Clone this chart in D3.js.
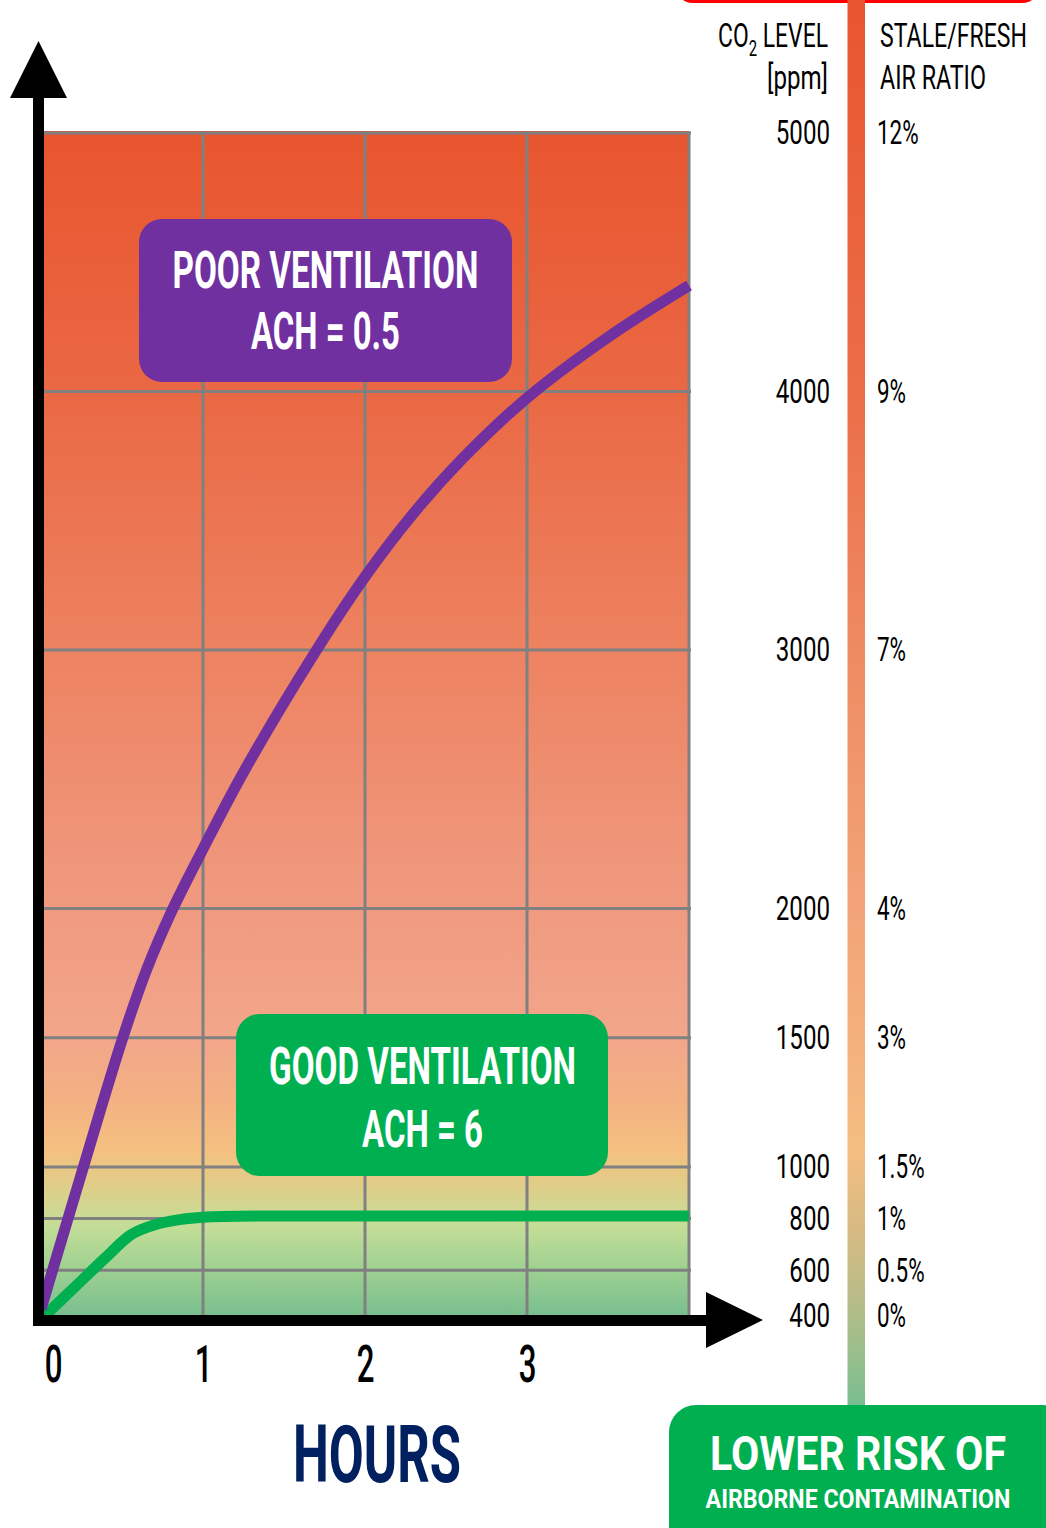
<!DOCTYPE html>
<html><head><meta charset="utf-8">
<script src="https://cdn.jsdelivr.net/npm/d3@7"></script>
<style>html,body{margin:0;padding:0;background:#fff;} svg{display:block;font-family:Roboto,"Noto Sans",sans-serif;}</style>
</head><body><svg id="chart" width="1046" height="1528"></svg>
<script>
// ---------- data ----------
const hoursPoor = [0, 0.25, 0.5, 0.65, 0.8, 1.0, 1.25, 1.68, 2.0, 2.3, 2.6, 3.0, 3.5, 4.0];
const ppmPoor   = [450, 975, 1490, 1760, 1980, 2230, 2527, 2979, 3283, 3529, 3739, 3975, 4210, 4410];
const hoursGood = [0, 0.2, 0.4, 0.55, 0.65, 0.8, 1.0, 2, 3, 4];
const ppmGood   = [410, 530, 650, 735, 765, 790, 805, 810, 810, 810];
const hourTicks = [0, 1, 2, 3];
const hourGrid  = [1, 2, 3, 4];
const ppmTicks  = [400, 600, 800, 1000, 1500, 2000, 3000, 4000, 5000];
const ratioLabels = ["0%", "0.5%", "1%", "1.5%", "3%", "4%", "7%", "9%", "12%"];
const ppmGrid   = [600, 800, 1000, 1500, 2000, 3000, 4000, 5000];
const seriesTitles = ["POOR VENTILATION", "GOOD VENTILATION"];
const achLabels = ["ACH = 0.5", "ACH = 6"];
const xTitle = "HOURS";
const riskLines = ["LOWER RISK OF", "AIRBORNE CONTAMINATION"];

// ---------- setup ----------
const svg = d3.select("#chart");
const x = d3.scaleLinear().domain([0, 4]).range([41, 689]);
const y = d3.scaleLinear().domain([400, 5000]).range([1322, 133]);

const defs = svg.append("defs");
function vGrad(id, stops) {
  const g = defs.append("linearGradient").attr("id", id)
    .attr("x1", 0).attr("y1", 0).attr("x2", 0).attr("y2", 1);
  stops.forEach(s => g.append("stop").attr("offset", s[0]).attr("stop-color", s[1]));
}
vGrad("bgGrad", [
  [0, "#E8552E"], [0.2175, "#EA6844"], [0.4316, "#ED8260"], [0.6516, "#F09A80"],
  [0.761, "#F2A68A"], [0.814, "#F3B182"], [0.856, "#F5C080"], [0.885, "#E0CD88"],
  [0.919, "#C4DE98"], [0.952, "#A2D292"], [1, "#74BC8E"]
]);
vGrad("barGrad", [
  [0, "#E8552E"], [0.278, "#EB6E48"], [0.459, "#EE8A62"], [0.646, "#F2A478"],
  [0.738, "#F4B07C"], [0.818, "#F4BE82"], [0.875, "#D6BA82"], [0.918, "#BCBC88"],
  [0.954, "#A0BE8A"], [1, "#78BE90"]
]);

function addText(parent, str, px, py, size, weight, fill, anchor, width) {
  const g = parent.append("g").attr("transform", `translate(${px},${py})`);
  const t = g.append("text").attr("text-anchor", anchor)
    .style("font-size", size + "px").style("font-weight", weight)
    .attr("fill", fill).text(str);
  const w = t.node().getComputedTextLength();
  t.attr("transform", `scale(${width / w},1)`);
  return t;
}

// ---------- plot background ----------
svg.append("rect")
  .attr("x", 44).attr("y", y(5000) - 2)
  .attr("width", x(4) - 44).attr("height", y(400) - y(5000) + 2)
  .attr("fill", "url(#bgGrad)");

// grid
svg.append("g").selectAll("line").data(ppmGrid).join("line")
  .attr("x1", 44).attr("x2", x(4) + 2)
  .attr("y1", d => y(d)).attr("y2", d => y(d))
  .attr("stroke", "#808080").attr("stroke-width", 3);
svg.append("g").selectAll("line").data(hourGrid).join("line")
  .attr("x1", d => x(d)).attr("x2", d => x(d))
  .attr("y1", y(5000) - 1.5).attr("y2", y(400))
  .attr("stroke", "#808080").attr("stroke-width", 3);

// ---------- lines ----------
const line = d3.line().x(d => x(d[0])).y(d => y(d[1])).curve(d3.curveCatmullRom.alpha(0.5));
svg.append("path").datum(hoursGood.map((h, i) => [h, ppmGood[i]]))
  .attr("d", line).attr("fill", "none").attr("stroke", "#00B050").attr("stroke-width", 11);
svg.append("path").datum(hoursPoor.map((h, i) => [h, ppmPoor[i]]))
  .attr("d", line).attr("fill", "none").attr("stroke", "#7030A0").attr("stroke-width", 11);

// ---------- label boxes ----------
svg.append("rect").attr("x", 139).attr("y", 219).attr("width", 373).attr("height", 163)
  .attr("rx", 23).attr("fill", "#7030A0");
addText(svg, seriesTitles[0], 325.5, 288, 51, 700, "#fff", "middle", 306);
addText(svg, achLabels[0], 325.5, 349, 51, 700, "#fff", "middle", 149);

svg.append("rect").attr("x", 236).attr("y", 1014).attr("width", 372).attr("height", 162)
  .attr("rx", 24).attr("fill", "#00B050");
addText(svg, seriesTitles[1], 422.5, 1084, 51, 700, "#fff", "middle", 307);
addText(svg, achLabels[1], 422.5, 1147, 51, 700, "#fff", "middle", 121);

// ---------- axes ----------
svg.append("line").attr("x1", 38.5).attr("x2", 38.5).attr("y1", 95).attr("y2", 1326)
  .attr("stroke", "#000").attr("stroke-width", 11);
svg.append("line").attr("x1", 33).attr("x2", 710).attr("y1", 1320.5).attr("y2", 1320.5)
  .attr("stroke", "#000").attr("stroke-width", 11);
svg.append("path").attr("d", "M10,98 L67,98 L38.5,41 Z").attr("fill", "#000");
svg.append("path").attr("d", "M706,1292 L706,1348 L763,1320 Z").attr("fill", "#000");

const xAxis = svg.append("g").attr("transform", "translate(0,1320)")
  .call(d3.axisBottom(x).tickValues(hourTicks).tickSize(0).tickPadding(25).tickFormat(d3.format("d")));
xAxis.select(".domain").remove();
xAxis.selectAll("text").style("font-size", "52px").style("font-family", "Roboto")
  .style("font-weight", 500).attr("fill", "#000")
  .attr("transform", (d, i) => (i === 0 ? "translate(12,0) " : "") + "scale(0.6,1)");

addText(svg, xTitle, 377, 1482, 80, 700, "#002060", "middle", 168);

// ---------- colour bar & scale ----------
svg.append("rect").attr("x", 675).attr("y", -40).attr("width", 365).attr("height", 43)
  .attr("rx", 18).attr("fill", "#FF0000");
svg.append("rect").attr("x", 847.5).attr("y", 0).attr("width", 17.5).attr("height", 1406)
  .attr("fill", "url(#barGrad)");

const lift = d => (d === 400 ? "translate(0,-6) " : "");
const leftAx = svg.append("g").attr("transform", "translate(830,0)")
  .call(d3.axisLeft(y).tickValues(ppmTicks).tickSize(0).tickPadding(0).tickFormat(d3.format("d")));
leftAx.select(".domain").remove();
leftAx.selectAll("text").style("font-size", "34px").style("font-family", "Roboto")
  .attr("fill", "#000").attr("transform", d => lift(d) + "scale(0.71,1)");

const rightAx = svg.append("g").attr("transform", "translate(877,0)")
  .call(d3.axisRight(y).tickValues(ppmTicks).tickSize(0).tickPadding(0)
    .tickFormat((d, i) => ratioLabels[i]));
rightAx.select(".domain").remove();
rightAx.selectAll("text").style("font-size", "34px").style("font-family", "Roboto")
  .attr("fill", "#000").attr("transform", d => lift(d) + "scale(0.66,1)");

// headers
{
  const g = svg.append("g").attr("transform", "translate(828,47)");
  const t = g.append("text").attr("text-anchor", "end").style("font-size", "34px").attr("fill", "#000");
  t.append("tspan").text("CO");
  t.append("tspan").text("2").style("font-size", "22px").attr("dy", 9);
  t.append("tspan").text(" LEVEL").attr("dy", -9);
  const w = t.node().getComputedTextLength();
  t.attr("transform", `scale(${110 / w},1)`);
}
addText(svg, "[ppm]", 828, 89, 34, 400, "#000", "end", 61);
addText(svg, "STALE/FRESH", 880, 47, 34, 400, "#000", "start", 147);
addText(svg, "AIR RATIO", 880, 89, 34, 400, "#000", "start", 106);

// ---------- bottom risk box ----------
svg.append("rect").attr("x", 669).attr("y", 1405).attr("width", 400).attr("height", 160)
  .attr("rx", 27).attr("fill", "#00AF50");
addText(svg, riskLines[0], 858, 1470, 49, 700, "#fff", "middle", 296);
addText(svg, riskLines[1], 858, 1508, 26, 700, "#fff", "middle", 305);
</script>
</body></html>
